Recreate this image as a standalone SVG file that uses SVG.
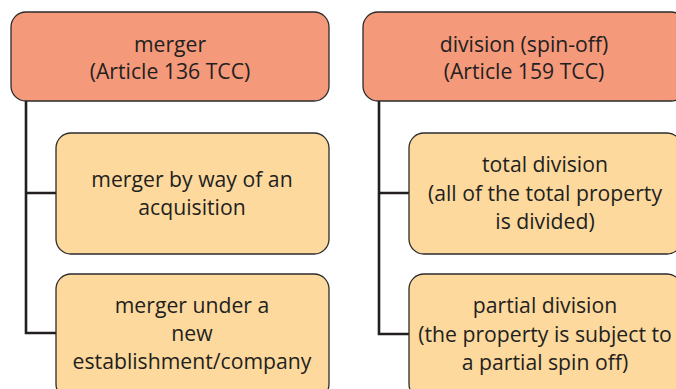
<svg xmlns="http://www.w3.org/2000/svg" width="676" height="389" viewBox="0 0 676 389">
  <style>
    .head { fill: #F5997B; stroke: #2B2B2B; stroke-width: 1.3; }
    .sub { fill: #FDD99D; stroke: #2B2B2B; stroke-width: 1.3; }
    .lbl { font-family: "Open Sans", "Noto Sans", "Liberation Sans", sans-serif; font-size: 21.2px; fill: #231F20; text-anchor: middle; }
    .wire { fill: none; stroke: #231F20; stroke-width: 2.6; }
  </style>
  <rect width="676" height="389" fill="#FFFFFF"/>

  <!-- connectors -->
  <g id="connectors">
    <path class="wire" d="M26 101 V333 H56 M26 193 H56"/>
    <path class="wire" d="M379 101 V334 H409 M379 193 H409"/>
  </g>

  <!-- merger branch -->
  <g id="merger">
    <rect class="head" x="11" y="12" width="318" height="89" rx="15"/>
    <text class="lbl" x="170" y="52">merger</text>
    <text class="lbl" x="170" y="79">(Article 136 TCC)</text>
  </g>
  <g id="merger-acquisition">
    <rect class="sub" x="56" y="133" width="273" height="121" rx="15"/>
    <text class="lbl" x="192" y="187">merger by way of an</text>
    <text class="lbl" x="192" y="215">acquisition</text>
  </g>
  <g id="merger-new">
    <rect class="sub" x="56" y="274" width="273" height="125" rx="15"/>
    <text class="lbl" x="192" y="313">merger under a</text>
    <text class="lbl" x="192" y="341">new</text>
    <text class="lbl" x="192" y="369">establishment/company</text>
  </g>

  <!-- division branch -->
  <g id="division">
    <rect class="head" x="363" y="12" width="323" height="89" rx="15"/>
    <text class="lbl" x="524" y="52">division (spin-off)</text>
    <text class="lbl" x="524" y="79">(Article 159 TCC)</text>
  </g>
  <g id="division-total">
    <rect class="sub" x="409" y="133" width="273" height="121" rx="15"/>
    <text class="lbl" x="545" y="172">total division</text>
    <text class="lbl" x="545" y="201">(all of the total property</text>
    <text class="lbl" x="545" y="229">is divided)</text>
  </g>
  <g id="division-partial">
    <rect class="sub" x="409" y="274" width="273" height="125" rx="15"/>
    <text class="lbl" x="545" y="313">partial division</text>
    <text class="lbl" x="545" y="342">(the property is subject to</text>
    <text class="lbl" x="545" y="370">a partial spin off)</text>
  </g>
</svg>
